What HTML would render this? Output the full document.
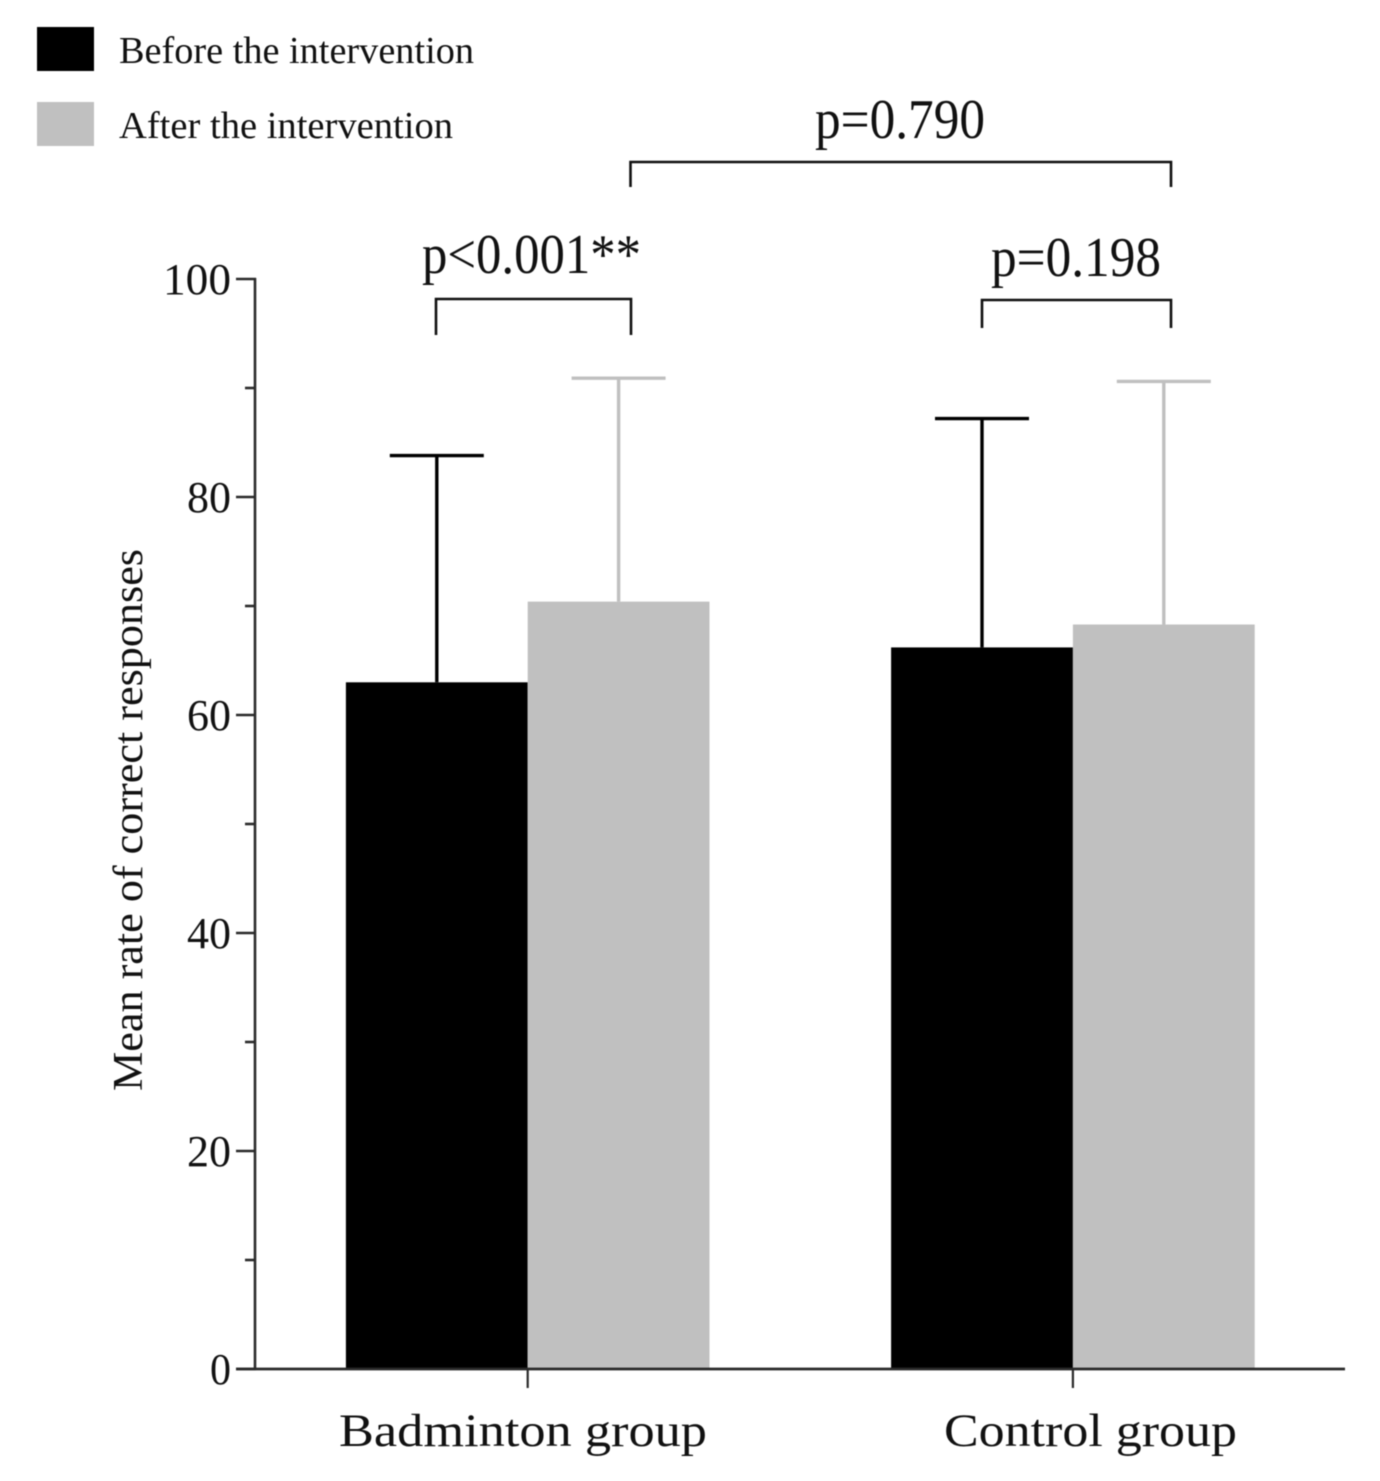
<!DOCTYPE html>
<html>
<head>
<meta charset="utf-8">
<title>Mean rate of correct responses</title>
<style>
html,body{margin:0;padding:0;background:#fff;width:1380px;height:1481px;overflow:hidden}
svg{display:block;filter:blur(.5px)}
text{font-family:"Liberation Serif",serif;fill:#111}
</style>
</head>
<body>
<svg id="chart" width="1380" height="1481" viewBox="0 0 1380 1481" xmlns="http://www.w3.org/2000/svg"></svg>
<script>
const groups = ['Badminton group', 'Control group'];
const seriesNames = ['Before the intervention', 'After the intervention'];
const beforeMeans = [63.0, 66.2];
const afterMeans = [70.4, 68.3];
const beforeErrorTops = [83.8, 87.2];
const afterErrorTops = [90.9, 90.6];
const majorTicks = [0, 20, 40, 60, 80, 100];
const minorTicks = [10, 30, 50, 70, 90];

const NS = 'http://www.w3.org/2000/svg';
const svg = document.getElementById('chart');
const BLACK = '#000000', GRAY = '#c0c0c0', AXIS = '#2a2a2a';

const y = v => 1369 - v * 10.9;
const groupCenter = i => 527.7 + i * 545.2;
const BAR_W = 181.8;

function el(tag, attrs, parent) {
  const e = document.createElementNS(NS, tag);
  for (const k in attrs) e.setAttribute(k, attrs[k]);
  (parent || svg).appendChild(e);
  return e;
}
function label(str, x, yy, size, len, anchor, name, extra) {
  const t = el('text', Object.assign({x: x, y: yy, 'font-size': size, 'text-anchor': anchor || 'start', textLength: len, lengthAdjust: 'spacingAndGlyphs'}, extra || {}));
  t.textContent = str;
  
  
  return t;
}
function line(x1, y1, x2, y2, color, w, name) {
  const l = el('line', {x1: x1, y1: y1, x2: x2, y2: y2, stroke: color, 'stroke-width': w});
  
  
  return l;
}
function bracket(x1, x2, top, bottomLeft, bottomRight, name) {
  const p = el('path', {d: `M${x1} ${bottomLeft}V${top}H${x2}V${bottomRight}`, fill: 'none', stroke: '#111', 'stroke-width': 2.6});
  
  
}

/* legend */
const sw1 = el('rect', {x: 37, y: 27, width: 57, height: 44, fill: BLACK});


const sw2 = el('rect', {x: 37, y: 102, width: 57, height: 44, fill: GRAY});


label(seriesNames[0], 119, 63, 38, 355, 'start', 'legend-label-before');
label(seriesNames[1], 119, 138, 38, 334, 'start', 'legend-label-after');

/* bars and error bars */
groups.forEach((g, i) => {
  const c = groupCenter(i);
  const xb = c - BAR_W, xa = c;
  const cb = xb + BAR_W / 2, ca = xa + BAR_W / 2;

  line(cb, y(beforeMeans[i]), cb, y(beforeErrorTops[i]), BLACK, 3.4, 'error-bar-before-' + i);
  line(cb - 47, y(beforeErrorTops[i]), cb + 47, y(beforeErrorTops[i]), BLACK, 3.4, 'error-cap-before-' + i);
  line(ca, y(afterMeans[i]), ca, y(afterErrorTops[i]), GRAY, 3.4, 'error-bar-after-' + i);
  line(ca - 47, y(afterErrorTops[i]), ca + 47, y(afterErrorTops[i]), GRAY, 3.4, 'error-cap-after-' + i);

  const rb = el('rect', {x: xb, y: y(beforeMeans[i]), width: BAR_W, height: y(0) - y(beforeMeans[i]), fill: BLACK});
  
  
  const ra = el('rect', {x: xa, y: y(afterMeans[i]), width: BAR_W, height: y(0) - y(afterMeans[i]), fill: GRAY});
  
  
});

/* y axis */
line(255, y(100) - 1, 255, y(0) + 1, AXIS, 2.6, 'y-axis');
majorTicks.forEach(v => {
  line(236, y(v), 256, y(v), AXIS, 2.6, 'y-tick-' + v);
  const w = v === 100 ? 68 : (v === 0 ? 21 : 44);
  label(String(v), 231, y(v) + 15, 44, w, 'end', 'y-tick-label-' + v);
});
minorTicks.forEach(v => {
  line(245, y(v), 255, y(v), AXIS, 2.6, 'y-minor-tick-' + v);
});

/* x axis */
line(236, y(0), 1345, y(0), AXIS, 2.8, 'x-axis');
groups.forEach((g, i) => {
  line(groupCenter(i), y(0), groupCenter(i), 1388, AXIS, 2.2, 'x-tick-' + i);
});
label(groups[0], 339, 1446, 47, 368, 'start', 'x-label-badminton');
label(groups[1], 944, 1446, 47, 293, 'start', 'x-label-control');

/* y axis title */
label('Mean rate of correct responses', 0, 0, 42, 542, 'middle', 'y-axis-title', {transform: 'translate(142 820) rotate(-90)'});

/* significance annotations */
bracket(436, 631, 299, 335, 335, 'bracket-badminton');
label('p<0.001**', 422, 273, 56, 219, 'start', 'p-value-badminton');
bracket(982, 1171, 300, 328, 328, 'bracket-control');
label('p=0.198', 991, 276, 56, 170, 'start', 'p-value-control');
bracket(630.5, 1171, 162, 187, 187, 'bracket-between-groups');
label('p=0.790', 815, 138, 56, 170, 'start', 'p-value-between-groups');
</script>
</body>
</html>
